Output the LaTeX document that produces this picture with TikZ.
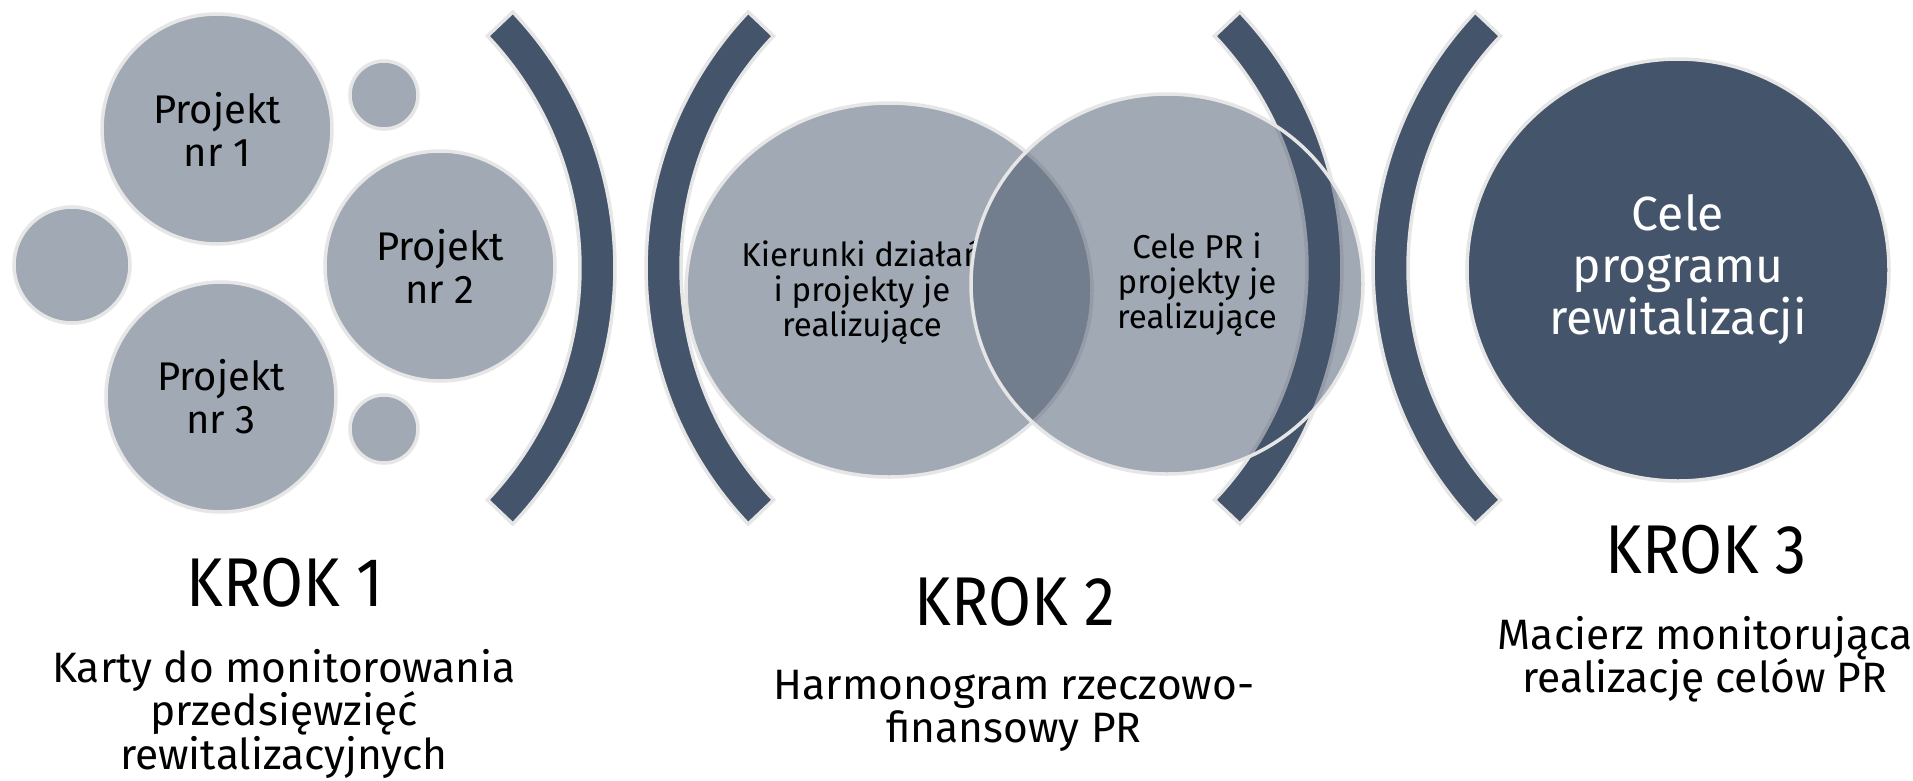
\documentclass[tikz,border=0pt]{standalone}
\usepackage{fontspec}
\setmainfont{Fira Sans}
\newfontfamily\titlefont{Fira Sans}[FakeStretch=0.9]
\usetikzlibrary{shapes.geometric,calc}
\definecolor{navy}{HTML}{44546A}
\definecolor{lightnavy}{HTML}{A1A9B4}
\definecolor{rim}{HTML}{E7E6E6}
\newcommand\tightlines{\lineskiplimit -100pt\relax}
\begin{document}
\begin{tikzpicture}[x=1pt,y=-1pt,
  rimline/.style={draw=rim, line width=3.5pt},
  bubble/.style={circle, rimline, fill=lightnavy, inner sep=0pt, align=center, text=black,
    font={\fontsize{40}{43}\selectfont\tightlines}},
  dot/.style={circle, rimline, fill=lightnavy, inner sep=0pt},
  vennset/.style={ellipse, rimline, fill=navy, fill opacity=0.5, inner sep=0pt},
  venntext/.style={align=center, text=black, inner sep=0pt,
    font={\fontsize{33}{35}\selectfont\tightlines}},
  brk/.style={rimline, fill=navy, line join=miter},
  steptitle/.style={anchor=base, inner sep=0pt, text=black, font={\titlefont\fontsize{69}{69}\selectfont}},
  stepnote/.style={anchor=north, align=center, inner sep=0pt, text=black,
    font={\fontsize{42.5}{43.5}\selectfont\tightlines}},
]
\useasboundingbox (0,0) rectangle (1913,780);
\fill[white] (0,0) rectangle (1913,780);

% bracket centres
\coordinate (c1) at (243,268);
\coordinate (c2) at (1018,268);
\coordinate (c3) at (970,268);
\coordinate (c4) at (1745,268);

% brackets
\draw[brk] ($(c1)+(43.5:372)$) arc[start angle=43.5, end angle=-43.5, radius=372]
  -- ($(c1)+(-43.5:337)$) arc[start angle=-43.5, end angle=43.5, radius=337] -- cycle;
\draw[brk] ($(c2)+(136.5:372)$) arc[start angle=136.5, end angle=223.5, radius=372]
  -- ($(c2)+(223.5:337)$) arc[start angle=223.5, end angle=136.5, radius=337] -- cycle;
\draw[brk] ($(c3)+(43.5:372)$) arc[start angle=43.5, end angle=-43.5, radius=372]
  -- ($(c3)+(-43.5:337)$) arc[start angle=-43.5, end angle=43.5, radius=337] -- cycle;
\draw[brk] ($(c4)+(136.5:372)$) arc[start angle=136.5, end angle=223.5, radius=372]
  -- ($(c4)+(223.5:337)$) arc[start angle=223.5, end angle=136.5, radius=337] -- cycle;

% step 1
\node[bubble, minimum size=230pt] (p1) at (217,129) {Projekt\\nr 1};
\node[bubble, minimum size=230pt] (p2) at (440,266) {Projekt\\nr 2};
\node[bubble, minimum size=230pt] (p3) at (221,397) {Projekt\\nr 3};
\node[dot, minimum size=68pt] (s1) at (384,95) {};
\node[dot, minimum size=68pt] (s2) at (384,429) {};
\node[dot, minimum size=116pt] (s3) at (72,265) {};

% step 2
\node[vennset, minimum width=406pt, minimum height=374pt] (v1) at (889,290) {};
\begin{scope}
  \clip (0,0) rectangle (975,780);
  \node[venntext] (t1) at (862,292) {Kierunki działań\\i projekty je\\realizujące};
\end{scope}
\node[vennset, minimum width=392pt, minimum height=380pt] (v2) at (1167,284) {};
\node[venntext] (t2) at (1197,285) {Cele PR i\\projekty je\\realizujące};

% step 3
\node[circle, rimline, fill=navy, minimum size=422pt, inner sep=0pt, align=center, text=white,
  font={\fontsize{48}{52}\selectfont\tightlines}] (goal) at (1678,270) {Cele\\programu\\rewitalizacji};

% labels
\node[steptitle] (k1) at (285,606) {KROK 1};
\node[steptitle] (k2) at (1015,625) {KROK 2};
\node[steptitle] (k3) at (1706,573) {KROK 3};
\node[stepnote] (n1) at (284,649) {Karty do monitorowania\\przedsięwzięć\\rewitalizacyjnych};
\node[stepnote] (n2) at (1014,670) {Harmonogram rzeczowo-\\finansowy PR};
\node[stepnote] (n3) at (1705,616) {Macierz monitorująca\\realizację celów PR};
\end{tikzpicture}
\end{document}
